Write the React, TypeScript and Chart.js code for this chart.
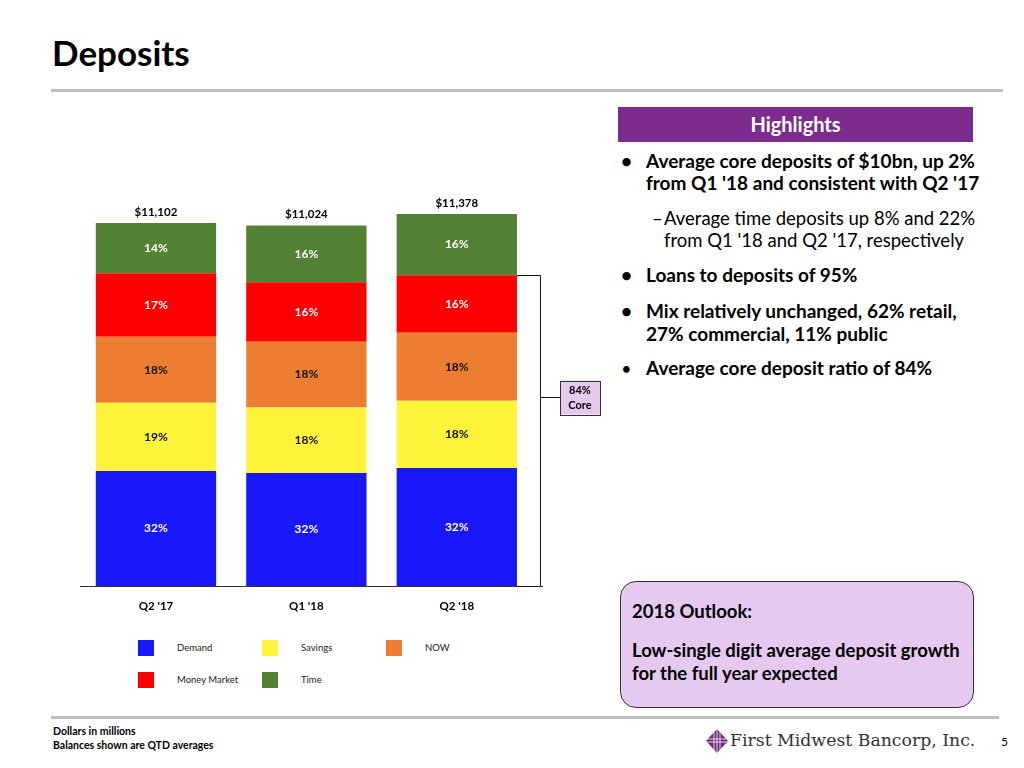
import React, { useEffect, useRef } from "react";
import { Chart, registerables } from "chart.js";

Chart.register(...registerables);

const FONT = "Lato, 'Open Sans', sans-serif";

const categories = ["Q2 '17", "Q1 '18", "Q2 '18"];
const seriesNames = ["Demand", "Savings", "NOW", "Money Market", "Time"];
const seriesColors = ["#1818F8", "#FFF43C", "#ED7D31", "#FF0000", "#548235"];
const labelColors = ["#FFFFFF", "#111111", "#111111", "#FFFFFF", "#FFFFFF"];

// Balances in $ millions (QTD averages)
const demand = [3518, 3454, 3608];
const savings = [2089, 2008, 2059];
const nowAcc = [2018, 2005, 2080];
const moneyMarket = [1939, 1824, 1756];
const time = [1538, 1733, 1875];

const seriesValues = [demand, savings, nowAcc, moneyMarket, time];

// Labels shown in the chart
const pctDemand = ["32%", "32%", "32%"];
const pctSavings = ["19%", "18%", "18%"];
const pctNow = ["18%", "18%", "18%"];
const pctMoneyMarket = ["17%", "16%", "16%"];
const pctTime = ["14%", "16%", "16%"];
const pctLabels = [pctDemand, pctSavings, pctNow, pctMoneyMarket, pctTime];

const totalLabels = ["$11,102", "$11,024", "$11,378"];
const coreLabel = ["84%", "Core"];

const yMax = 12000;

const overlayPlugin = {
  id: "overlay",
  afterDatasetsDraw(chart: any) {
    const ctx = chart.ctx;
    ctx.save();
    ctx.textAlign = "center";
    ctx.textBaseline = "middle";
    const n = chart.data.datasets.length;
    ctx.font = `bold 12px ${FONT}`;
    chart.data.datasets.forEach((ds: any, di: number) => {
      const meta = chart.getDatasetMeta(di);
      meta.data.forEach((bar: any, i: number) => {
        const p = bar.getProps(["x", "y", "base"], true);
        ctx.fillStyle = labelColors[di];
        ctx.fillText(pctLabels[di][i], p.x, (p.y + p.base) / 2);
      });
    });
    // totals
    ctx.font = `bold 11.5px ${FONT}`;
    const topMeta = chart.getDatasetMeta(n - 1);
    topMeta.data.forEach((bar: any, i: number) => {
      const p = bar.getProps(["x", "y"], true);
      ctx.fillStyle = "#000";
      ctx.fillText(totalLabels[i], p.x, p.y - 11);
    });
    // core bracket on last category
    const last = categories.length - 1;
    const mmBar = chart.getDatasetMeta(n - 2).data[last].getProps(["x", "y", "width"], true);
    const right = mmBar.x + mmBar.width / 2;
    const bx = right + 23;
    const top = Math.round(mmBar.y) + 0.5;
    const bottom = Math.round(chart.scales.y.getPixelForValue(0)) + 0.5;
    ctx.strokeStyle = "#111";
    ctx.lineWidth = 1;
    ctx.beginPath();
    ctx.moveTo(right, top);
    ctx.lineTo(bx + 0.5, top);
    ctx.lineTo(bx + 0.5, bottom);
    ctx.lineTo(bx + 3, bottom);
    ctx.moveTo(right, bottom);
    ctx.lineTo(bx, bottom);
    const my = Math.round(top + (bottom - top) * 0.39) + 0.5;
    ctx.moveTo(bx, my);
    ctx.lineTo(bx + 20, my);
    ctx.stroke();
    // box
    const boxX = bx + 20;
    const boxW = 40;
    const boxH = 34;
    const boxY = my - boxH / 2;
    ctx.fillStyle = "#E5C9EF";
    ctx.fillRect(boxX, boxY, boxW, boxH);
    ctx.strokeStyle = "#333";
    ctx.strokeRect(Math.round(boxX) + 0.5, Math.round(boxY) + 0.5, boxW, boxH);
    ctx.fillStyle = "#000";
    ctx.font = `bold 11px ${FONT}`;
    ctx.fillText(coreLabel[0], boxX + boxW / 2, boxY + 9.5);
    ctx.fillText(coreLabel[1], boxX + boxW / 2, boxY + 24.5);
    ctx.restore();
  },
};

function DepositsChart() {
  const ref = useRef<HTMLCanvasElement>(null);
  useEffect(() => {
    if (!ref.current) return;
    const chart = new Chart(ref.current, {
      type: "bar",
      data: {
        labels: categories,
        datasets: seriesNames.map((name, i) => ({
          label: name,
          data: seriesValues[i],
          backgroundColor: seriesColors[i],
          borderWidth: 0,
          barPercentage: 0.8,
          categoryPercentage: 1.0,
        })),
      },
      options: {
        animation: false,
        responsive: false,
        maintainAspectRatio: false,
        layout: { padding: { left: 20.75, right: 88, top: 43.6, bottom: 0 } },
        plugins: {
          legend: { display: false },
          tooltip: { enabled: false },
          title: { display: false },
        },
        scales: {
          x: {
            stacked: true,
            grid: { display: false, drawTicks: false },
            border: { display: true, color: "#333", width: 1 },
            ticks: {
              color: "#000",
              font: { family: FONT, size: 11.5, weight: "bold" },
              padding: 13,
            },
            afterFit: (axis: any) => {
              axis.height = 44;
            },
          },
          y: {
            stacked: true,
            display: false,
            min: 0,
            max: yMax,
          },
        },
      },
      plugins: [overlayPlugin],
    });
    return () => chart.destroy();
  }, []);
  return (
    <canvas
      ref={ref}
      width={560}
      height={480}
      style={{ position: "absolute", left: 60, top: 150, width: 560, height: 480 }}
    />
  );
}

function Legend() {
  return (
    <>
      {seriesNames.map((name, i) => {
        const col = i % 3;
        const row = Math.floor(i / 3);
        const x = 138 + col * 124;
        const y = 640 + row * 32;
        return (
          <React.Fragment key={name}>
            <div
              style={{
                position: "absolute",
                left: x,
                top: y,
                width: 16,
                height: 16,
                background: seriesColors[i],
              }}
            />
            <div
              style={{
                position: "absolute",
                left: x + 39,
                top: y,
                height: 16,
                lineHeight: "16px",
                fontSize: 9.5,
                color: "#222",
                whiteSpace: "nowrap",
              }}
            >
              {name}
            </div>
          </React.Fragment>
        );
      })}
    </>
  );
}

export default function App() {
  const line = (top: number, left: number, text: React.ReactNode, bold = true, size = 19) => (
    <div
      style={{
        position: "absolute",
        left,
        top,
        fontSize: size,
        lineHeight: "22px",
        fontWeight: bold ? 700 : 400,
        color: "#000",
        whiteSpace: "nowrap",
      }}
    >
      {text}
    </div>
  );
  return (
    <div
      style={{
        position: "absolute",
        left: 0,
        top: 0,
        width: 1024,
        height: 768,
        background: "#fff",
        fontFamily: FONT,
        overflow: "hidden",
      }}
    >
      <div
        style={{
          position: "absolute",
          left: 52,
          top: 30,
          fontSize: 35,
          lineHeight: "44px",
          fontWeight: 700,
          color: "#000",
        }}
      >
        Deposits
      </div>
      <div style={{ position: "absolute", left: 51, top: 89, width: 952, height: 3, background: "#BFBFBF" }} />

      <DepositsChart />
      <Legend />

      {/* Highlights */}
      <div
        style={{
          position: "absolute",
          left: 618,
          top: 107,
          width: 355,
          height: 35,
          background: "#7B2C8E",
          color: "#fff",
          fontWeight: 700,
          fontSize: 20,
          lineHeight: "35px",
          textAlign: "center",
        }}
      >
        Highlights
      </div>

      {line(150, 621, "•")}
      {line(150, 646, "Average core deposits of $10bn, up 2%")}
      {line(172, 646, "from Q1 '18 and consistent with Q2 '17")}
      {line(207, 652, "–", false, 18.5)}
      {line(207, 664, "Average time deposits up 8% and 22%", false, 18.5)}
      {line(229, 664, "from Q1 '18 and Q2 '17, respectively", false, 18.5)}
      {line(264, 621, "•")}
      {line(264, 646, "Loans to deposits of 95%")}
      {line(300, 621, "•")}
      {line(300, 646, "Mix relatively unchanged, 62% retail,")}
      {line(323, 646, "27% commercial, 11% public")}
      {line(357, 622, "•", true, 15)}
      {line(357, 646, "Average core deposit ratio of 84%")}

      {/* Outlook box */}
      <div
        style={{
          position: "absolute",
          left: 620,
          top: 581,
          width: 352,
          height: 125,
          background: "#E6C9F0",
          border: "1px solid #333",
          borderRadius: 16,
        }}
      />
      {line(600, 632, "2018 Outlook:", true, 18.5)}
      {line(639, 632, "Low-single digit average deposit growth", true, 18.5)}
      {line(662, 632, "for the full year expected", true, 18.5)}

      {/* Footer */}
      <div style={{ position: "absolute", left: 51, top: 716, width: 948, height: 3, background: "#BFBFBF" }} />
      <div
        style={{
          position: "absolute",
          left: 53,
          top: 724,
          fontSize: 10.5,
          lineHeight: "14px",
          fontWeight: 700,
          color: "#000",
        }}
      >
        Dollars in millions
        <br />
        Balances shown are QTD averages
      </div>
      <svg
        style={{ position: "absolute", left: 706, top: 729 }}
        width={22}
        height={24}
        viewBox="0 0 22 24"
      >
        <polygon points="11,0 22,12 11,24 0,12" fill="#6E2C80" />
        <line x1="8" y1="2" x2="8" y2="22" stroke="#fff" strokeWidth="0.8" />
        <line x1="11" y1="0" x2="11" y2="24" stroke="#fff" strokeWidth="0.8" />
        <line x1="14" y1="2" x2="14" y2="22" stroke="#fff" strokeWidth="0.8" />
        <line x1="2" y1="10" x2="20" y2="10" stroke="#fff" strokeWidth="0.8" />
        <line x1="0" y1="13" x2="22" y2="13" stroke="#fff" strokeWidth="0.8" />
      </svg>
      <div
        style={{
          position: "absolute",
          left: 730,
          top: 729,
          fontSize: 17.3,
          lineHeight: "22px",
          fontFamily: "'DejaVu Serif', serif",
          color: "#333",
          whiteSpace: "nowrap",
        }}
      >
        First Midwest Bancorp, Inc.
      </div>
      <div
        style={{
          position: "absolute",
          left: 1001,
          top: 734,
          fontSize: 12,
          lineHeight: "16px",
          color: "#000",
        }}
      >
        5
      </div>
    </div>
  );
}
